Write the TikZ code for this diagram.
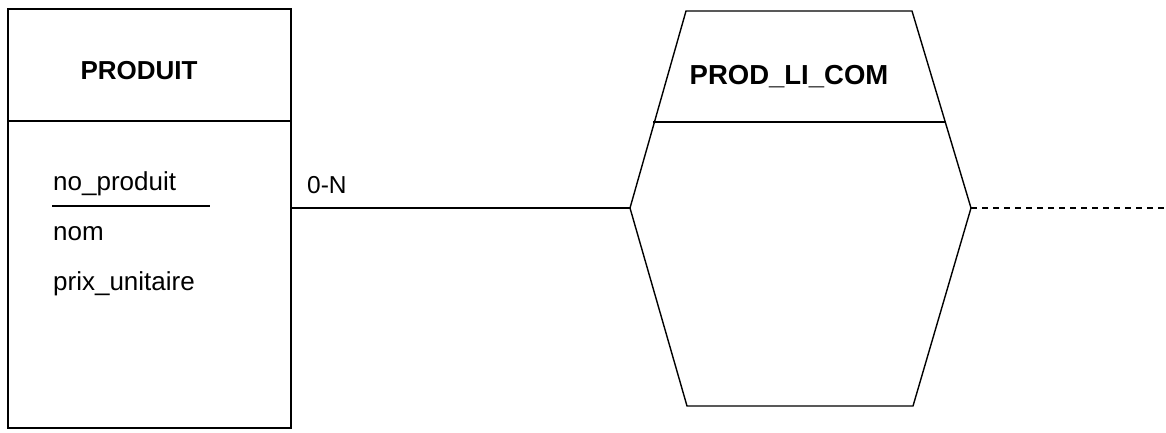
\documentclass[tikz,border=0pt]{standalone}
\usepackage{fontspec}
\setmainfont{Liberation Sans}
\begin{document}
\begin{tikzpicture}[x=1pt,y=-1pt,
  line/.style={line width=1.4pt, black},
  title/.style={font=\fontsize{26}{30}\selectfont\bfseries, inner sep=0pt},
  attr/.style={font=\fontsize{26}{30}\selectfont, inner sep=0pt, anchor=base west},
  card/.style={font=\fontsize{24.5}{28}\selectfont, inner sep=0pt, anchor=base west}]
\useasboundingbox (0,0) rectangle (1166,432);
% entity PRODUIT
\node[line, draw, minimum width=283pt, minimum height=419pt, inner sep=0pt] (produit) at (149.5,218.5) {};
\draw[line] (produit.west |- 0,121) coordinate (divL) -- (produit.east |- 0,121) coordinate (divR);
\node[title] (ptitle) at (139,71) {PRODUIT};
\node[attr] (a1) at (53,190) {no\_produit};
\draw[line] (52,206) coordinate (ulL) -- (210,206) coordinate (ulR);
\node[attr] (a2) at (53,240) {nom};
\node[attr] (a3) at (53,290) {prix\_unitaire};
% relation PROD_LI_COM
\coordinate (hTL) at (686,11);
\coordinate (hTR) at (912,11);
\coordinate (hR) at (971,208);
\coordinate (hBR) at (913,406);
\coordinate (hBL) at (687,406);
\coordinate (hL) at (630,208);
\draw[line, line join=miter] (hTL) -- (hTR) -- (hR) -- (hBR) -- (hBL) -- (hL) -- cycle;
\draw[line] (653,122) coordinate (rdL) -- (945,122) coordinate (rdR);
\node[title, font=\fontsize{27.5}{30}\selectfont\bfseries] (rtitle) at (789,77) {PROD\_LI\_COM};
% connectors
\draw[line] (produit.east |- hL) -- (hL);
\node[card] (c1) at (307,193) {0-N};
\coordinate (dashend) at (1166,208);
\draw[line, dash pattern=on 6pt off 5pt] (hR) -- (dashend);
\end{tikzpicture}
\end{document}
